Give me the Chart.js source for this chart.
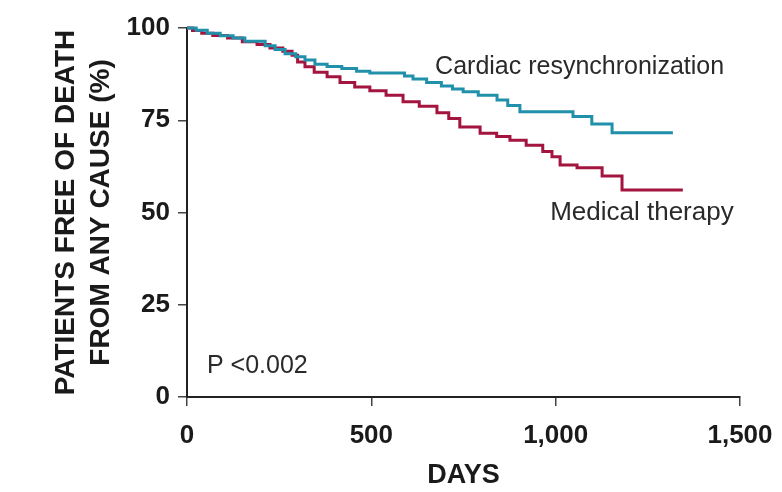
<!DOCTYPE html>
<html>
<head>
<meta charset="utf-8">
<title>Survival curves</title>
<script src="https://cdn.jsdelivr.net/npm/chart.js@4.4.1/dist/chart.umd.min.js"></script>
<style>
  html, body { margin: 0; padding: 0; background: #fff; }
  canvas { display: block; }
</style>
</head>
<body>
<canvas id="survivalChart" width="782" height="492"></canvas>
<script>
// Kaplan-Meier estimates: day of event and % still alive after it
const crtDays = [0, 25, 55, 90, 125, 157, 212, 239, 266, 295, 320, 347, 380, 420, 460, 496, 590, 613, 650, 690, 720, 749, 790, 841, 870, 903, 1047, 1098, 1153, 1318];
const crtSurvival = [100, 99.4, 98.6, 97.9, 97.3, 96.4, 95.2, 94.2, 93.0, 92.2, 91.3, 90.2, 89.6, 89.0, 88.3, 87.8, 87.0, 86.2, 85.2, 84.3, 83.5, 82.7, 81.8, 80.5, 79.0, 77.3, 76.0, 74.0, 71.6, 71.6];

const medDays = [0, 15, 40, 70, 110, 150, 190, 225, 260, 285, 300, 320, 345, 380, 415, 455, 496, 540, 586, 630, 678, 710, 740, 795, 840, 876, 920, 965, 990, 1012, 1058, 1126, 1180, 1345];
const medSurvival = [100, 99.3, 98.6, 98.0, 97.3, 96.3, 95.5, 94.6, 93.7, 92.6, 90.8, 89.5, 88.0, 86.8, 85.2, 84.0, 83.0, 81.8, 80.0, 78.8, 77.0, 75.5, 73.2, 71.5, 70.6, 69.6, 68.2, 66.5, 65.1, 62.9, 62.1, 59.9, 56.1, 56.1];

const xTicks = [0, 500, 1000, 1500];
const yTicks = [0, 25, 50, 75, 100];

const seriesNames = ['Cardiac resynchronization', 'Medical therapy'];
const pValueText = 'P <0.002';

const FONT = '"Liberation Sans", Arial, sans-serif';

function toPoints(days, values) {
    return days.map((d, i) => ({ x: d, y: values[i] }));
}

// labels written straight onto the plot, placed in data units
const curveLabels = {
    id: 'curveLabels',
    afterDatasetsDraw(chart) {
        const { ctx, scales: { x, y } } = chart;
        const items = [
            { text: seriesNames[0], day: 673, pct: 89.4, size: 25 },
            { text: seriesNames[1], day: 985, pct: 49.9, size: 26 },
            { text: pValueText, day: 54, pct: 8.4, size: 25 }
        ];
        ctx.save();
        ctx.fillStyle = '#2a2a2a';
        ctx.textAlign = 'left';
        ctx.textBaseline = 'middle';
        items.forEach(it => {
            ctx.font = it.size + 'px ' + FONT;
            ctx.fillText(it.text, x.getPixelForValue(it.day), y.getPixelForValue(it.pct));
        });
        ctx.restore();
    }
};

new Chart(document.getElementById('survivalChart'), {
    type: 'line',
    data: {
        datasets: [
            {
                label: seriesNames[0],
                data: toPoints(crtDays, crtSurvival),
                borderColor: '#2190aa',
                borderWidth: 3,
                stepped: true,
                pointRadius: 0,
                clip: false
            },
            {
                label: seriesNames[1],
                data: toPoints(medDays, medSurvival),
                borderColor: '#a3143f',
                borderWidth: 3,
                stepped: true,
                pointRadius: 0,
                clip: false
            }
        ]
    },
    options: {
        responsive: false,
        animation: false,
        layout: { padding: { top: 28, right: 42, left: 0, bottom: 0 } },
        plugins: {
            legend: { display: false },
            tooltip: { enabled: false }
        },
        scales: {
            x: {
                type: 'linear',
                min: 0,
                max: 1500,
                afterBuildTicks(scale) {
                    scale.ticks = xTicks.map(v => ({ value: v }));
                },
                afterFit(scale) {
                    // keep the plot edge fixed; the last label may hang into the margin
                    scale.height = 95;
                    scale.paddingLeft = 0;
                    scale.paddingRight = 0;
                },
                ticks: {
                    color: '#1a1a1a',
                    padding: 14,
                    font: { family: FONT, size: 26, weight: 'bold' },
                    callback: v => v.toLocaleString('en-US')
                },
                grid: {
                    drawOnChartArea: false,
                    drawTicks: true,
                    tickLength: 9,
                    color: '#444',
                    lineWidth: 1.5
                },
                border: { display: true, color: '#222', width: 2 },
                title: {
                    display: true,
                    text: 'DAYS',
                    color: '#1a1a1a',
                    font: { family: FONT, size: 27, weight: 'bold' },
                    padding: { top: 0, bottom: 0 }
                }
            },
            y: {
                min: 0,
                max: 100,
                afterBuildTicks(scale) {
                    scale.ticks = yTicks.map(v => ({ value: v }));
                },
                afterFit(scale) { scale.width = 187; },
                ticks: {
                    color: '#1a1a1a',
                    padding: 8,
                    font: { family: FONT, size: 26, weight: 'bold' }
                },
                grid: {
                    drawOnChartArea: false,
                    drawTicks: true,
                    tickLength: 9,
                    color: '#444',
                    lineWidth: 1.5
                },
                border: { display: true, color: '#222', width: 2 },
                title: {
                    display: true,
                    text: ['PATIENTS FREE OF DEATH', 'FROM ANY CAUSE (%)'],
                    color: '#1a1a1a',
                    font: { family: FONT, size: 28, weight: 'bold', lineHeight: 1.25 },
                    padding: { top: 49, bottom: 0 }
                }
            }
        }
    },
    plugins: [curveLabels]
});
</script>
</body>
</html>
